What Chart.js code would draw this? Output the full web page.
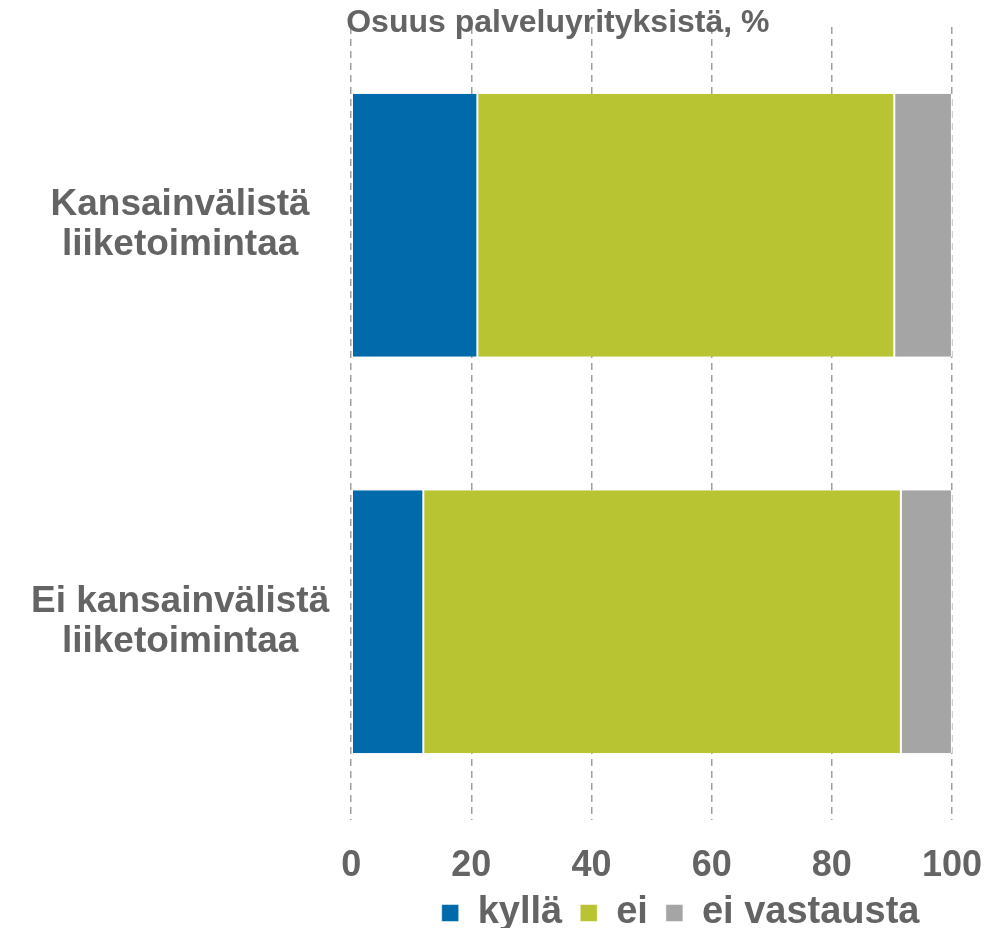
<!DOCTYPE html>
<html>
<head>
<meta charset="utf-8">
<script src="https://cdn.jsdelivr.net/npm/chart.js@4"></script>
<style>
  html, body { margin: 0; padding: 0; background: #fff; }
  #wrap { width: 1006px; height: 928px; }
</style>
</head>
<body>
<div id="wrap"><canvas id="chart"></canvas></div>
<script>
  // values, % of service companies
  const categories = [['Kansainvälistä', 'liiketoimintaa'], ['Ei kansainvälistä', 'liiketoimintaa']];
  const kylla = [21.0, 12.0];
  const ei = [69.4, 79.5];
  const eiVastausta = [9.6, 8.5];
  const seriesNames = ['kyllä', 'ei', 'ei vastausta'];
  const axisTitle = 'Osuus palveluyrityksistä, %';

  const textColor = '#646464';
  const fontFamily = '"Liberation Sans", Arial, sans-serif';

  // axis title sits over the top of the plot, starting at the 0 line
  const topTitle = {
    id: 'topTitle',
    afterDraw(chart) {
      const ctx = chart.ctx;
      ctx.save();
      ctx.font = 'bold 32px ' + fontFamily;
      ctx.fillStyle = textColor;
      ctx.textAlign = 'left';
      ctx.textBaseline = 'alphabetic';
      ctx.fillText(axisTitle, chart.chartArea.left - 5, 32);
      ctx.restore();
    }
  };

  // legend in the original is a bit right of the plot centre
  const legendNudge = {
    id: 'legendNudge',
    afterLayout(chart) {
      chart.legend.left += 29;
      chart.legend.right += 29;
    }
  };

  const barStyle = { borderColor: '#ffffff', borderWidth: { left: 1, right: 1, top: 0, bottom: 0 }, borderSkipped: false };

  const ctx = document.getElementById('chart').getContext('2d');
  new Chart(ctx, {
    type: 'bar',
    data: {
      labels: categories,
      datasets: [
        Object.assign({ label: seriesNames[0], data: kylla, backgroundColor: '#006aaa' }, barStyle),
        Object.assign({ label: seriesNames[1], data: ei, backgroundColor: '#b9c432' }, barStyle),
        Object.assign({ label: seriesNames[2], data: eiVastausta, backgroundColor: '#a5a5a6' }, barStyle)
      ]
    },
    options: {
      indexAxis: 'y',
      responsive: true,
      maintainAspectRatio: false,
      animation: false,
      categoryPercentage: 1,
      barPercentage: 0.663,
      layout: { padding: { top: 27, left: 9, right: 17, bottom: -3 } },
      plugins: {
        legend: {
          position: 'bottom',
          align: 'center',
          fullSize: false,
          maxHeight: 55,
          labels: {
            boxWidth: 17,
            boxHeight: 17,
            padding: 18,
            color: textColor,
            font: { family: fontFamily, size: 38, weight: 'bold' }
          }
        },
        title: { display: false },
        tooltip: { enabled: false }
      },
      scales: {
        x: {
          stacked: true,
          min: 0,
          max: 100,
          afterFit(scale) {
            scale.height = 56;
          },
          ticks: {
            stepSize: 20,
            padding: 24,
            color: textColor,
            font: { family: fontFamily, size: 36, weight: 'bold' }
          },
          grid: {
            color: '#a0a0a0',
            lineWidth: 1.5,
            drawTicks: false
          },
          border: { display: false, dash: [7, 5] }
        },
        y: {
          stacked: true,
          afterFit(scale) {
            scale.paddingTop = 0;
            scale.paddingBottom = 0;
          },
          ticks: {
            crossAlign: 'center',
            padding: 22,
            color: textColor,
            font: { family: fontFamily, size: 37, weight: 'bold', lineHeight: 1.08 }
          },
          grid: { display: false, drawTicks: false },
          border: { display: false }
        }
      }
    },
    plugins: [topTitle, legendNudge]
  });
</script>
</body>
</html>
